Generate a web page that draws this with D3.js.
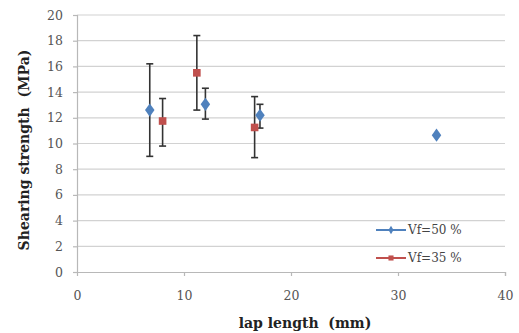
<!DOCTYPE html>
<html>
<head>
<meta charset="utf-8">
<script src="https://cdn.jsdelivr.net/npm/d3@7"></script>
<style>
  body { margin: 0; background: #fff; }
  svg text { font-family: "DejaVu Serif", "Liberation Serif", serif; }
</style>
</head>
<body>
<svg id="chart"></svg>
<script>
// data
const seriesNames = ['Vf=50 %', 'Vf=35 %'];
const vf50X = [6.8, 12.0, 17.1, 33.6];
const vf50Y = [12.6, 13.05, 12.2, 10.65];
const vf50Hi = [16.2, 14.3, 13.05, null];
const vf50Lo = [9.0, 11.9, 11.2, null];
const vf35X = [8.0, 11.2, 16.6];
const vf35Y = [11.75, 15.5, 11.25];
const vf35Hi = [13.5, 18.4, 13.65];
const vf35Lo = [9.8, 12.6, 8.9];
const xTicks = [0, 10, 20, 30, 40];
const yTicks = [0, 2, 4, 6, 8, 10, 12, 14, 16, 18, 20];

const width = 519, height = 333;
const margin = {top: 15, right: 14, bottom: 61, left: 77};

const svg = d3.select('#chart')
  .attr('width', width)
  .attr('height', height);

const x = d3.scaleLinear().domain([0, 40]).range([margin.left, width - margin.right]);
const y = d3.scaleLinear().domain([0, 20]).range([height - margin.bottom, margin.top]);

// horizontal gridlines
svg.append('g')
  .selectAll('line')
  .data(yTicks.slice(1))
  .enter().append('line')
  .attr('x1', x(0)).attr('x2', x(40))
  .attr('y1', d => y(d)).attr('y2', d => y(d))
  .attr('stroke', '#d2d2d2')
  .attr('stroke-width', 1.2);

const gx = svg.append('g')
  .attr('transform', 'translate(0,' + y(0) + ')')
  .call(d3.axisBottom(x).tickValues(xTicks).tickSize(4).tickPadding(15));

const gy = svg.append('g')
  .attr('transform', 'translate(' + x(0) + ',0)')
  .call(d3.axisLeft(y).tickValues(yTicks).tickSize(4).tickPadding(10));

svg.selectAll('.domain, .tick line')
  .attr('stroke', '#b8b8b8')
  .attr('stroke-width', 1.2);
svg.selectAll('.tick text')
  .attr('fill', '#555')
  .style('font-size', '12.5px');
gx.select('.tick line').remove();

// error bars
function drawErrors(xs, his, los) {
  const g = svg.append('g');
  xs.forEach(function(d, i) {
    if (his[i] == null) return;
    const cx = x(d);
    g.append('line')
      .attr('x1', cx).attr('x2', cx)
      .attr('y1', y(his[i])).attr('y2', y(los[i]))
      .attr('stroke', '#333').attr('stroke-width', 1.6);
    [his[i], los[i]].forEach(function(v) {
      g.append('line')
        .attr('x1', cx - 3.5).attr('x2', cx + 3.5)
        .attr('y1', y(v)).attr('y2', y(v))
        .attr('stroke', '#333').attr('stroke-width', 1.6);
    });
  });
}
drawErrors(vf50X, vf50Hi, vf50Lo);
drawErrors(vf35X, vf35Hi, vf35Lo);

const diamond = d3.symbol().type(d3.symbolDiamond).size(50);
const square = d3.symbol().type(d3.symbolSquare).size(58);

svg.append('g')
  .selectAll('path')
  .data(vf35X)
  .enter().append('path')
  .attr('d', square)
  .attr('transform', (d, i) => 'translate(' + x(d) + ',' + y(vf35Y[i]) + ')')
  .attr('fill', '#c0504d');

svg.append('g')
  .selectAll('path')
  .data(vf50X)
  .enter().append('path')
  .attr('d', diamond)
  .attr('transform', (d, i) => 'translate(' + x(d) + ',' + y(vf50Y[i]) + ') scale(1.25,1)')
  .attr('fill', '#4f81bd');

// legend
const legendColors = ['#4f81bd', '#c0504d'];
const legend = svg.append('g');
seriesNames.forEach(function(name, i) {
  const ly = 230 + i * 28;
  legend.append('line')
    .attr('x1', 376).attr('x2', 406)
    .attr('y1', ly).attr('y2', ly)
    .attr('stroke', legendColors[i]).attr('stroke-width', 2);
  legend.append('path')
    .attr('d', i === 0 ? d3.symbol().type(d3.symbolDiamond).size(22) : d3.symbol().type(d3.symbolSquare).size(26))
    .attr('transform', 'translate(391,' + ly + ')')
    .attr('fill', legendColors[i]);
  legend.append('text')
    .attr('x', 408).attr('y', ly + 4)
    .attr('fill', '#444')
    .style('font-size', '12px')
    .text(name);
});

// axis titles
svg.append('text')
  .attr('x', 305).attr('y', 328)
  .attr('text-anchor', 'middle')
  .attr('fill', '#222')
  .style('font-size', '14px')
  .style('font-weight', 'bold')
  .attr('xml:space', 'preserve')
  .text('lap length  (mm)');

svg.append('text')
  .attr('transform', 'translate(29,150) rotate(-90)')
  .attr('text-anchor', 'middle')
  .attr('fill', '#222')
  .style('font-size', '14px')
  .style('font-weight', 'bold')
  .attr('xml:space', 'preserve')
  .text('Shearing strength  (MPa)');
</script>
</body>
</html>
